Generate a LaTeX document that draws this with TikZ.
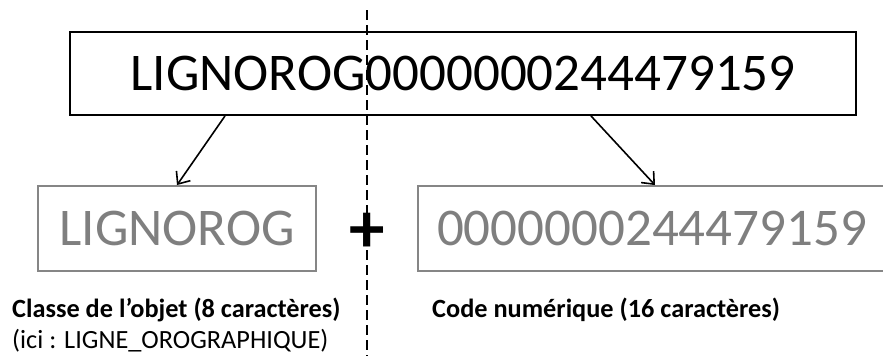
\documentclass[tikz,border=0pt]{standalone}
\usepackage{fontspec}
\setmainfont{Carlito}
\usepackage{xcolor}
\usepackage{tikz}
\usetikzlibrary{arrows.meta, positioning}
\definecolor{boxgray}{RGB}{134,134,134}
\definecolor{txtgray}{RGB}{127,127,127}
\tikzstyle{arrow} = [line width=1.6pt,-{Straight Barb[length=10pt,width=17pt]}]
\tikzstyle{block} = [rectangle, draw, line width=1.9pt, inner sep=0pt, font=\fontsize{53}{60}\selectfont]
\tikzstyle{part} = [block, draw=boxgray, text=txtgray, minimum height=85pt]
\tikzstyle{caption} = [inner sep=0pt, anchor=base west, font=\fontsize{26.3}{30}\selectfont]
\tikzset{every node/.style={align=center}}

\begin{document}
\begin{tikzpicture}[x=1pt, y=-1pt]
    \useasboundingbox (0,0) rectangle (883,356);

    \node (ident) [block, minimum width=786pt, minimum height=83pt] at (463,73.5) {LIGNOROG0000000244479159};
    \node (classe) [part, minimum width=278pt] at (177,228.5) {LIGNOROG};
    \node (numero) [part, minimum width=468pt] at (652,228.5) {0000000244479159};

    % separation
    \coordinate (cut top) at (367,10);
    \coordinate (cut bottom) at (367,356);
    \draw [line width=2.2pt, dash pattern=on 10pt off 5pt] (cut top) -- (cut bottom);
    \node (plus) [font=\fontsize{71}{76}\selectfont\bfseries, inner sep=0pt] at (367.5,233) {+};

    \node (lclasse) [caption] at (12,317) {\bfseries Classe de l’objet (8 caractères)};
    \node (lici) [caption] at (12,348) {(ici : LIGNE\_OROGRAPHIQUE)};
    \node (lnumero) [caption] at (432,317) {\bfseries Code numérique (16 caractères)};

    \draw [arrow] ([xshift=-238pt]ident.south) -- (classe.north);
    \draw [arrow] ([xshift=128pt]ident.south) -- ([xshift=3pt]numero.north);
\end{tikzpicture}
\end{document}
